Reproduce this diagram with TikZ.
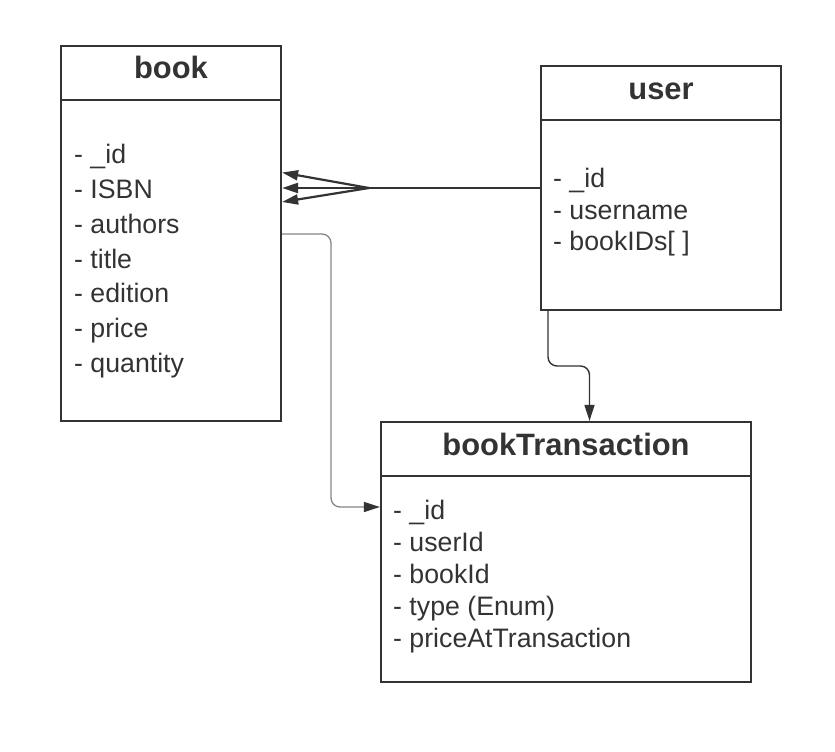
\documentclass[tikz,border=0pt]{standalone}
\usepackage{fontspec}
\setmainfont{Liberation Sans}
\usepackage{tikz}
\usetikzlibrary{arrows.meta}
\definecolor{ink}{HTML}{333333}
\definecolor{wire}{HTML}{858585}

\begin{document}
\begin{tikzpicture}[x=1bp, y=-1bp,
            entity/.style={draw=ink, line width=2.2bp, rectangle, inner sep=0pt},
            divider/.style={ink, line width=2.2bp},
            title/.style={text=ink, font=\bfseries\fontsize{31}{35}\selectfont, anchor=base, inner sep=0pt},
            fields/.style={text=ink, align=left, anchor=base west, inner sep=0pt},
            many/.style={ink, line width=2.2bp},
            link/.style={ink, line width=1.4bp, rounded corners=9bp},
            faint/.style={wire, line width=1.3bp, rounded corners=9bp},
            >={Triangle[length=16bp, width=10bp]}]

        \useasboundingbox (0,0) rectangle (835,752);

        % tables
        \node[entity, minimum width=220bp, minimum height=375bp] (book) at (171,233.5) {};
        \node[entity, minimum width=240bp, minimum height=244bp] (user) at (661,188) {};
        \node[entity, minimum width=370bp, minimum height=260bp] (trans) at (566,552) {};

        \draw[divider] (book.west |- 0,100) -- (book.east |- 0,100);
        \draw[divider] (user.west |- 0,120) -- (user.east |- 0,120);
        \draw[divider] (trans.west |- 0,476) -- (trans.east |- 0,476);

        \node[title] (bookname) at (171,79) {book};
        \node[title] (username) at (661,99) {user};
        \node[title] (transname) at (566,455) {bookTransaction};

        % the last line sits on the given point
        \node[fields, font=\fontsize{26.8}{35}\selectfont] (bookfields) at (74,372.7)
            {- \_id\\- ISBN\\- authors\\- title\\- edition\\- price\\- quantity};
        \node[fields, font=\fontsize{26.8}{31.2}\selectfont] (userfields) at (553,250.1)
            {- \_id\\- username\\- bookIDs[ ]};
        \node[fields, font=\fontsize{26.8}{32}\selectfont] (transfields) at (393,647.3)
            {- \_id\\- userId\\- bookId\\- type (Enum)\\- priceAtTransaction};

        % user -< book
        \coordinate (fork) at (369,188);
        \draw[many] (user.west |- fork) -- (fork);
        \draw[many,->] (fork) -- (book.east |- 0,172.5);
        \draw[many,->] (fork) -- (book.east |- fork);
        \draw[many,->] (fork) -- (book.east |- 0,202);

        % book -> bookTransaction
        \draw[faint,-{Triangle[length=16bp, width=10bp, color=ink]}] (book.east |- 0,234) -- (331,234) -- (331,507) -- (trans.west |- 0,507);

        % user -> bookTransaction
        \draw[link,->] (548,310) -- (548,366) -- (589.5,366) -- (trans.north -| 589.5,0);
    \end{tikzpicture}
\end{document}
